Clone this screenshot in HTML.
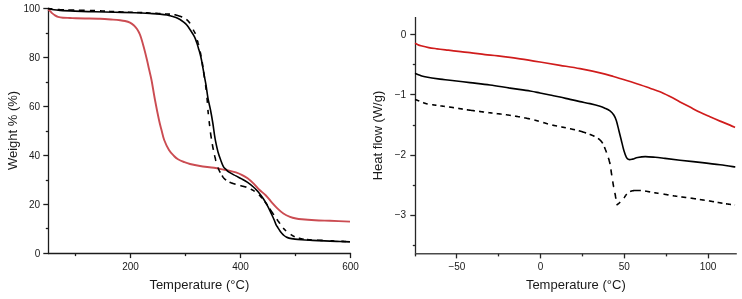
<!DOCTYPE html>
<html><head><meta charset="utf-8"><style>
html,body{margin:0;padding:0;background:#fff;}
svg{display:block;will-change:transform;filter:blur(0.3px);}
.axl{stroke:#1c1c1c;stroke-width:1.3;fill:none;}
.axr{stroke:#262626;stroke-width:1.3;fill:none;}
.axr2{stroke:#4a4a4a;stroke-width:1.5;fill:none;}
.c{fill:none;stroke-linejoin:round;}
text{font-family:"Liberation Sans",sans-serif;fill:#1a1a1a;}
.tl{font-size:10px;}
.al{font-size:13px;}
</style></head><body>
<svg width="742" height="299" viewBox="0 0 742 299">
<line x1="48.5" y1="8.2" x2="48.5" y2="254.1" class="axl"/>
<line x1="47.9" y1="253.5" x2="351.1" y2="253.5" class="axl"/>
<line x1="43.3" y1="253.5" x2="48.5" y2="253.5" class="axl"/>
<text x="40.2" y="257" class="tl" text-anchor="end">0</text>
<line x1="45.8" y1="228.5" x2="48.5" y2="228.5" class="axl"/>
<line x1="43.3" y1="204.5" x2="48.5" y2="204.5" class="axl"/>
<text x="40.2" y="208.08" class="tl" text-anchor="end">20</text>
<line x1="45.8" y1="180.5" x2="48.5" y2="180.5" class="axl"/>
<line x1="43.3" y1="155.5" x2="48.5" y2="155.5" class="axl"/>
<text x="40.2" y="159.16" class="tl" text-anchor="end">40</text>
<line x1="45.8" y1="131.5" x2="48.5" y2="131.5" class="axl"/>
<line x1="43.3" y1="106.5" x2="48.5" y2="106.5" class="axl"/>
<text x="40.2" y="110.24" class="tl" text-anchor="end">60</text>
<line x1="45.8" y1="82.5" x2="48.5" y2="82.5" class="axl"/>
<line x1="43.3" y1="57.5" x2="48.5" y2="57.5" class="axl"/>
<text x="40.2" y="61.32" class="tl" text-anchor="end">80</text>
<line x1="45.8" y1="33.5" x2="48.5" y2="33.5" class="axl"/>
<line x1="43.3" y1="8.5" x2="48.5" y2="8.5" class="axl"/>
<text x="40.2" y="12.4" class="tl" text-anchor="end">100</text>
<line x1="75.5" y1="253.5" x2="75.5" y2="256.1" class="axl"/>
<line x1="130.5" y1="253.5" x2="130.5" y2="258.1" class="axl"/>
<text x="130.5" y="269.6" class="tl" text-anchor="middle">200</text>
<line x1="185.5" y1="253.5" x2="185.5" y2="256.1" class="axl"/>
<line x1="240.5" y1="253.5" x2="240.5" y2="258.1" class="axl"/>
<text x="240.5" y="269.6" class="tl" text-anchor="middle">400</text>
<line x1="295.5" y1="253.5" x2="295.5" y2="256.1" class="axl"/>
<line x1="350.5" y1="253.5" x2="350.5" y2="258.1" class="axl"/>
<text x="350.5" y="269.6" class="tl" text-anchor="middle">600</text>
<text x="199.3" y="288.9" class="al" text-anchor="middle">Temperature (°C)</text>
<text transform="translate(16.8,130.5) rotate(-90)" class="al" text-anchor="middle">Weight % (%)</text>
<line x1="415.5" y1="17" x2="415.5" y2="254.4" class="axr"/>
<line x1="414.9" y1="253.8" x2="736.8" y2="253.8" class="axr2"/>
<line x1="410.3" y1="34.5" x2="415.5" y2="34.5" class="axr"/>
<text x="406.2" y="37.8" class="tl" text-anchor="end">0</text>
<line x1="412.8" y1="64.5" x2="415.5" y2="64.5" class="axr"/>
<line x1="410.3" y1="94.5" x2="415.5" y2="94.5" class="axr"/>
<text x="406.2" y="97.97" class="tl" text-anchor="end">−1</text>
<line x1="412.8" y1="125.5" x2="415.5" y2="125.5" class="axr"/>
<line x1="410.3" y1="155.5" x2="415.5" y2="155.5" class="axr"/>
<text x="406.2" y="158.14" class="tl" text-anchor="end">−2</text>
<line x1="412.8" y1="185.5" x2="415.5" y2="185.5" class="axr"/>
<line x1="410.3" y1="215.5" x2="415.5" y2="215.5" class="axr"/>
<text x="406.2" y="218.31" class="tl" text-anchor="end">−3</text>
<line x1="412.8" y1="245.5" x2="415.5" y2="245.5" class="axr"/>
<line x1="415.5" y1="253.8" x2="415.5" y2="256.4" class="axr"/>
<line x1="456.5" y1="253.8" x2="456.5" y2="258.4" class="axr"/>
<text x="456.9" y="270.2" class="tl" text-anchor="middle">−50</text>
<line x1="498.5" y1="253.8" x2="498.5" y2="256.4" class="axr"/>
<line x1="540.5" y1="253.8" x2="540.5" y2="258.4" class="axr"/>
<text x="540.6" y="270.2" class="tl" text-anchor="middle">0</text>
<line x1="582.5" y1="253.8" x2="582.5" y2="256.4" class="axr"/>
<line x1="624.5" y1="253.8" x2="624.5" y2="258.4" class="axr"/>
<text x="624.3" y="270.2" class="tl" text-anchor="middle">50</text>
<line x1="666.5" y1="253.8" x2="666.5" y2="256.4" class="axr"/>
<line x1="708.5" y1="253.8" x2="708.5" y2="258.4" class="axr"/>
<text x="708" y="270.2" class="tl" text-anchor="middle">100</text>
<text x="575.8" y="289.2" class="al" text-anchor="middle">Temperature (°C)</text>
<text transform="translate(381.8,135.5) rotate(-90)" class="al" text-anchor="middle">Heat flow (W/g)</text>
<path d="M48.00,9.50 C48.33,9.75 49.33,10.40 50.00,11.00 C50.67,11.60 51.17,12.37 52.00,13.10 C52.83,13.83 54.00,14.78 55.00,15.40 C56.00,16.02 56.67,16.42 58.00,16.80 C59.33,17.18 61.00,17.50 63.00,17.70 C65.00,17.90 67.83,17.90 70.00,18.00 C72.17,18.10 73.50,18.22 76.00,18.30 C78.50,18.38 81.00,18.42 85.00,18.50 C89.00,18.58 95.33,18.62 100.00,18.80 C104.67,18.98 109.67,19.37 113.00,19.60 C116.33,19.83 118.00,19.97 120.00,20.20 C122.00,20.43 123.33,20.58 125.00,21.00 C126.67,21.42 128.50,21.95 130.00,22.70 C131.50,23.45 132.83,24.45 134.00,25.50 C135.17,26.55 136.08,27.67 137.00,29.00 C137.92,30.33 138.83,32.08 139.50,33.50 C140.17,34.92 140.25,35.08 141.00,37.50 C141.75,39.92 143.00,44.25 144.00,48.00 C145.00,51.75 146.17,56.50 147.00,60.00 C147.83,63.50 148.25,65.67 149.00,69.00 C149.75,72.33 150.50,74.83 151.50,80.00 C152.50,85.17 153.75,93.33 155.00,100.00 C156.25,106.67 157.92,115.00 159.00,120.00 C160.08,125.00 160.63,126.67 161.50,130.00 C162.37,133.33 162.95,136.67 164.20,140.00 C165.45,143.33 167.37,147.33 169.00,150.00 C170.63,152.67 172.50,154.45 174.00,156.00 C175.50,157.55 176.33,158.30 178.00,159.30 C179.67,160.30 182.00,161.22 184.00,162.00 C186.00,162.78 187.33,163.33 190.00,164.00 C192.67,164.67 196.00,165.37 200.00,166.00 C204.00,166.63 210.10,167.20 214.00,167.80 C217.90,168.40 220.73,169.08 223.40,169.60 C226.07,170.12 227.92,170.43 230.00,170.90 C232.08,171.37 233.95,171.75 235.90,172.40 C237.85,173.05 239.75,173.82 241.70,174.80 C243.65,175.78 245.65,176.87 247.60,178.30 C249.55,179.73 251.45,181.50 253.40,183.40 C255.35,185.30 257.22,187.68 259.30,189.70 C261.38,191.72 263.83,193.40 265.90,195.50 C267.97,197.60 269.75,200.12 271.70,202.30 C273.65,204.48 275.65,206.73 277.60,208.60 C279.55,210.47 281.33,212.13 283.40,213.50 C285.47,214.87 287.90,215.97 290.00,216.80 C292.10,217.63 294.03,218.08 296.00,218.50 C297.97,218.92 298.63,219.02 301.80,219.30 C304.97,219.58 310.30,219.95 315.00,220.20 C319.70,220.45 324.17,220.57 330.00,220.80 C335.83,221.03 346.67,221.47 350.00,221.60" class="c" style="stroke:#cb4c52;stroke-width:1.9"/>
<path d="M48.00,8.50 C49.00,8.72 52.00,9.48 54.00,9.80 C56.00,10.12 56.50,10.18 60.00,10.40 C63.50,10.62 69.17,10.87 75.00,11.10 C80.83,11.33 88.33,11.62 95.00,11.80 C101.67,11.98 108.33,12.03 115.00,12.20 C121.67,12.37 129.17,12.58 135.00,12.80 C140.83,13.02 145.83,13.28 150.00,13.50 C154.17,13.72 157.17,13.85 160.00,14.10 C162.83,14.35 165.00,14.63 167.00,15.00 C169.00,15.37 170.50,15.87 172.00,16.30 C173.50,16.73 174.67,17.07 176.00,17.60 C177.33,18.13 178.83,18.83 180.00,19.50 C181.17,20.17 181.87,20.68 183.00,21.60 C184.13,22.52 185.50,23.47 186.80,25.00 C188.10,26.53 189.53,28.85 190.80,30.80 C192.07,32.75 193.42,34.75 194.40,36.70 C195.38,38.65 196.02,40.55 196.70,42.50 C197.38,44.45 197.92,46.45 198.50,48.40 C199.08,50.35 199.70,52.27 200.20,54.20 C200.70,56.13 201.03,57.63 201.50,60.00 C201.97,62.37 202.50,65.60 203.00,68.40 C203.50,71.20 204.00,74.03 204.50,76.80 C205.00,79.57 205.42,81.40 206.00,85.00 C206.58,88.60 207.25,94.23 208.00,98.40 C208.75,102.57 209.70,105.90 210.50,110.00 C211.30,114.10 212.13,118.83 212.80,123.00 C213.47,127.17 214.03,131.93 214.50,135.00 C214.97,138.07 215.02,138.57 215.60,141.40 C216.18,144.23 217.15,148.90 218.00,152.00 C218.85,155.10 219.80,157.57 220.70,160.00 C221.60,162.43 222.52,165.05 223.40,166.60 C224.28,168.15 225.07,168.37 226.00,169.30 C226.93,170.23 227.35,171.10 229.00,172.20 C230.65,173.30 233.78,174.78 235.90,175.90 C238.02,177.02 239.75,177.82 241.70,178.90 C243.65,179.98 245.65,181.05 247.60,182.40 C249.55,183.75 251.65,185.43 253.40,187.00 C255.15,188.57 256.42,189.80 258.10,191.80 C259.78,193.80 262.02,196.82 263.50,199.00 C264.98,201.18 265.92,202.93 267.00,204.90 C268.08,206.87 269.10,208.95 270.00,210.80 C270.90,212.65 271.67,214.38 272.40,216.00 C273.13,217.62 273.80,219.07 274.40,220.50 C275.00,221.93 275.40,223.38 276.00,224.60 C276.60,225.82 277.33,226.73 278.00,227.80 C278.67,228.87 279.33,230.05 280.00,231.00 C280.67,231.95 281.33,232.75 282.00,233.50 C282.67,234.25 283.33,234.93 284.00,235.50 C284.67,236.07 285.17,236.47 286.00,236.90 C286.83,237.33 287.50,237.73 289.00,238.10 C290.50,238.47 292.87,238.83 295.00,239.10 C297.13,239.37 299.30,239.52 301.80,239.70 C304.30,239.88 307.30,240.05 310.00,240.20 C312.70,240.35 314.67,240.45 318.00,240.60 C321.33,240.75 326.33,240.95 330.00,241.10 C333.67,241.25 336.67,241.37 340.00,241.50 C343.33,241.63 348.33,241.83 350.00,241.90" class="c" style="stroke:#000;stroke-width:1.6"/>
<path d="M48.00,8.50L48.27,8.53L48.57,8.56L48.91,8.60L49.27,8.64L49.67,8.69L50.09,8.73L50.53,8.79L51.00,8.84L51.49,8.90L52.00,8.96L52.52,9.01M57.69,9.53L58.27,9.58L58.86,9.62L59.43,9.66L60.00,9.70L60.56,9.73L61.13,9.76L61.70,9.79L62.27,9.81L62.84,9.83L63.42,9.85L64.00,9.87M68.24,9.97L68.88,9.98L69.52,9.99L70.17,10.00L70.83,10.01L71.50,10.02L72.18,10.04L72.87,10.05L73.57,10.07L74.28,10.08M78.84,10.19L79.65,10.20L80.47,10.22L81.30,10.24L82.13,10.25L82.98,10.27L83.83,10.29L84.69,10.31M89.88,10.43L90.75,10.45L91.61,10.48L92.47,10.51L93.32,10.54L94.16,10.57L95.00,10.60M100.00,10.84L100.83,10.89L101.67,10.94L102.50,10.99L103.33,11.04L104.17,11.09L105.00,11.14M109.17,11.39L110.00,11.44L110.83,11.49L111.67,11.53L112.50,11.58L113.33,11.62L114.17,11.66M118.39,11.84L119.25,11.87L120.12,11.91L120.98,11.94L121.85,11.97L122.72,12.00L123.59,12.03M127.87,12.16L128.70,12.19L129.53,12.22L130.35,12.24L131.16,12.27L131.96,12.29L132.74,12.32M137.11,12.48L137.79,12.50L138.45,12.53L139.10,12.55L139.74,12.57L140.37,12.60L140.99,12.62L141.60,12.64L142.21,12.66M145.78,12.81L146.37,12.83L146.96,12.86L147.56,12.88L148.16,12.91L148.77,12.94L149.38,12.97L150.00,13.00L150.63,13.03M155.22,13.29L155.89,13.32L156.55,13.36L157.22,13.40L157.88,13.44L158.53,13.48L159.18,13.52L159.81,13.56L160.44,13.60M165.00,13.90L165.49,13.93L165.96,13.96L166.42,13.99L166.86,14.01L167.28,14.03L167.70,14.05L168.09,14.07L168.48,14.09L168.86,14.10L169.23,14.12L169.59,14.14L169.94,14.16M174.36,14.67L174.71,14.74L175.07,14.82L175.43,14.90L175.79,14.99L176.15,15.08L176.51,15.18L176.87,15.27L177.23,15.38L177.59,15.48L177.94,15.59L178.29,15.69L178.63,15.80L178.97,15.91L179.31,16.03L179.64,16.14L179.96,16.25L180.28,16.36L180.59,16.47L180.89,16.58L181.18,16.69L181.46,16.79L181.74,16.90L182.00,17.00L182.25,17.10M186.40,19.40L186.57,19.53L186.73,19.67L186.89,19.81L187.05,19.95L187.21,20.09L187.37,20.24L187.52,20.38L187.67,20.53L187.83,20.69L187.98,20.84L188.13,21.00L188.28,21.16L188.42,21.33L188.57,21.50L188.71,21.67L188.86,21.84L189.00,22.02L189.15,22.21L189.29,22.40L189.43,22.59L189.57,22.78L189.72,22.98L189.86,23.19L190.00,23.40M193.20,29.60L193.31,29.82L193.43,30.03L193.54,30.23L193.64,30.42L193.75,30.62L193.86,30.80L193.96,30.98L194.06,31.16L194.16,31.33L194.26,31.51L194.36,31.68L194.46,31.84L194.55,32.01L194.64,32.18L194.74,32.35L194.83,32.52L194.91,32.69L195.00,32.86L195.09,33.04L195.17,33.22L195.26,33.41L195.34,33.60L195.42,33.80M197.19,40.11L197.25,40.31L197.31,40.50L197.37,40.68L197.43,40.86L197.49,41.04L197.55,41.22L197.61,41.40L197.68,41.58L197.74,41.76L197.80,41.94L197.86,42.13L197.92,42.32L197.99,42.51L198.05,42.71L198.11,42.91L198.17,43.12L198.24,43.34L198.30,43.57L198.37,43.80L198.43,44.05L198.50,44.30L198.57,44.57L198.64,44.85M200.07,51.41L200.13,51.71L200.20,52.00L200.26,52.28L200.33,52.55L200.39,52.80L200.45,53.05L200.51,53.29L200.57,53.53L200.63,53.75L200.69,53.98L200.75,54.20L200.80,54.42L200.86,54.64L200.92,54.86L200.98,55.08L201.03,55.30L201.09,55.53L201.14,55.77L201.20,56.01L201.26,56.26L201.31,56.52M202.22,62.20L202.28,62.62L202.33,63.05L202.39,63.49L202.45,63.93L202.50,64.37L202.56,64.82L202.62,65.27L202.68,65.72L202.74,66.17L202.81,66.63L202.87,67.08M203.59,71.93L203.66,72.44L203.74,72.96L203.82,73.48L203.90,74.00L203.98,74.52L204.06,75.04L204.14,75.56L204.21,76.07L204.29,76.59L204.37,77.09L204.44,77.60M205.55,85.12L205.61,85.53L205.67,85.93L205.72,86.34L205.78,86.74L205.83,87.14L205.89,87.55L205.94,87.95L205.99,88.36L206.05,88.76L206.10,89.17L206.15,89.58L206.20,90.00M207.01,97.80L207.04,98.23L207.08,98.66L207.12,99.10L207.16,99.55L207.20,100.00L207.24,100.46L207.28,100.92L207.31,101.39L207.35,101.86L207.39,102.34L207.42,102.83M207.93,109.82L207.97,110.32L208.01,110.81L208.05,111.31L208.10,111.80L208.15,112.29L208.19,112.78L208.24,113.28L208.29,113.78L208.35,114.27M209.13,121.18L209.18,121.65L209.24,122.12L209.29,122.58L209.35,123.05L209.40,123.50L209.45,123.95L209.50,124.40L209.55,124.85L209.61,125.29L209.66,125.74L209.71,126.18M210.45,132.38L210.50,132.76L210.55,133.13L210.60,133.50L210.65,133.86L210.70,134.21L210.75,134.56L210.80,134.90L210.85,135.23L210.90,135.56L210.95,135.89L211.00,136.20L211.05,136.52L211.10,136.83L211.15,137.13L211.20,137.44L211.25,137.74L211.30,138.04L211.35,138.33L211.40,138.63M212.29,144.07L212.34,144.34L212.38,144.62L212.43,144.90L212.48,145.18L212.53,145.46L212.58,145.75L212.63,146.05L212.68,146.35L212.74,146.67L212.80,146.98L212.86,147.31L212.93,147.65L213.00,148.00L213.07,148.36L213.15,148.74L213.23,149.13L213.31,149.53L213.40,149.94M214.56,155.21L214.65,155.64L214.75,156.06L214.84,156.47L214.94,156.87L215.03,157.26L215.12,157.64L215.20,158.00L215.28,158.35L215.36,158.69L215.44,159.03L215.52,159.36L215.60,159.69L215.67,160.01L215.75,160.32L215.82,160.63L215.90,160.93M217.90,167.49L217.99,167.70L218.07,167.90L218.16,168.10L218.24,168.30L218.33,168.50L218.41,168.69L218.50,168.88L218.58,169.07L218.66,169.26L218.75,169.45L218.83,169.63L218.92,169.82L219.00,170.00L219.08,170.18L219.16,170.36L219.24,170.53L219.32,170.69L219.40,170.86L219.48,171.02L219.55,171.18L219.63,171.33L219.71,171.48L219.78,171.63L219.86,171.78L219.94,171.93L220.02,172.08L220.10,172.23L220.18,172.38L220.26,172.53M222.01,175.50L222.13,175.70L222.25,175.90L222.38,176.09L222.50,176.29L222.63,176.49L222.76,176.68L222.89,176.88L223.02,177.07L223.16,177.26L223.29,177.44L223.43,177.62L223.57,177.80L223.71,177.97L223.86,178.14L224.00,178.30L224.15,178.46L224.30,178.61L224.45,178.76L224.60,178.91L224.76,179.06L224.92,179.20L225.08,179.34L225.24,179.48L225.40,179.62L225.57,179.75L225.74,179.88L225.91,180.01L226.08,180.14M229.51,182.18L229.67,182.26L229.84,182.33L230.01,182.40L230.19,182.47L230.37,182.54L230.55,182.61L230.74,182.68L230.93,182.75L231.13,182.83L231.34,182.90L231.55,182.97L231.78,183.05L232.01,183.13L232.25,183.21L232.50,183.30L232.76,183.39L233.04,183.48L233.33,183.57L233.63,183.67L233.94,183.77L234.26,183.86L234.58,183.96L234.92,184.06L235.26,184.16L235.60,184.27M240.30,185.60L240.59,185.68L240.87,185.76L241.16,185.83L241.43,185.90L241.71,185.97L241.98,186.04L242.25,186.11L242.52,186.17L242.79,186.24L243.05,186.30L243.31,186.36L243.56,186.42L243.82,186.49L244.06,186.55L244.31,186.61L244.56,186.67L244.80,186.73L245.03,186.80L245.27,186.86L245.50,186.92L245.73,186.99L245.96,187.06L246.18,187.13L246.40,187.20M250.80,189.10L250.97,189.19L251.14,189.27L251.31,189.36L251.47,189.45L251.64,189.53L251.80,189.62L251.96,189.71L252.12,189.80L252.28,189.88L252.44,189.97L252.60,190.06L252.76,190.16L252.91,190.25L253.07,190.34L253.23,190.44L253.39,190.54L253.55,190.64L253.71,190.74L253.87,190.84L254.03,190.95L254.20,191.06L254.36,191.17L254.53,191.28L254.70,191.40M259.00,194.80L259.15,194.94L259.30,195.08L259.44,195.22L259.57,195.36L259.71,195.49L259.83,195.63L259.96,195.76L260.08,195.90L260.20,196.03L260.32,196.17L260.44,196.30L260.56,196.44L260.67,196.58L260.79,196.72L260.91,196.86L261.03,197.00L261.15,197.15L261.28,197.30L261.40,197.46L261.53,197.62L261.67,197.78L261.81,197.95L261.95,198.12L262.10,198.30M264.76,201.46L264.94,201.69L265.13,201.93L265.31,202.17L265.51,202.42L265.70,202.68L265.90,202.95L266.10,203.22L266.30,203.50L266.51,203.79L266.72,204.10L266.94,204.41L267.16,204.74L267.39,205.08M269.79,208.76L270.03,209.14L270.28,209.52L270.52,209.89L270.75,210.26L270.99,210.62L271.22,210.98L271.45,211.33L271.68,211.67L271.90,212.00L272.12,212.33L272.34,212.65L272.56,212.98L272.78,213.31L273.00,213.63L273.21,213.96L273.43,214.28L273.65,214.60L273.86,214.92M276.80,219.20L276.97,219.44L277.13,219.66L277.28,219.88L277.43,220.10L277.58,220.30L277.72,220.50L277.86,220.69L277.99,220.87L278.12,221.06L278.25,221.23L278.38,221.40L278.51,221.57L278.63,221.74L278.75,221.91L278.87,222.07L279.00,222.24L279.12,222.40L279.24,222.57L279.36,222.73L279.49,222.90L279.61,223.07L279.74,223.24L279.87,223.42L280.00,223.60M283.20,228.00L283.32,228.15L283.44,228.29L283.55,228.42L283.67,228.55L283.77,228.67L283.88,228.79L283.98,228.91L284.09,229.02L284.19,229.13L284.29,229.23L284.39,229.34L284.49,229.44L284.60,229.55L284.70,229.65L284.81,229.75L284.93,229.86L285.04,229.97L285.16,230.07L285.29,230.19L285.42,230.30L285.55,230.42L285.69,230.54L285.84,230.67L286.00,230.80L286.16,230.94M290.72,234.37L290.90,234.50L291.08,234.62L291.25,234.74L291.43,234.86L291.59,234.98L291.76,235.09L291.92,235.20L292.08,235.30L292.24,235.41L292.39,235.51L292.55,235.61L292.70,235.71L292.85,235.80L293.00,235.89L293.15,235.98L293.30,236.07L293.45,236.16L293.60,236.24L293.75,236.33L293.91,236.41L294.06,236.49L294.22,236.57L294.38,236.65L294.54,236.72L294.70,236.80M298.80,238.10L298.99,238.15L299.17,238.20L299.36,238.25L299.54,238.30L299.73,238.35L299.91,238.40L300.10,238.45L300.29,238.50L300.48,238.55L300.67,238.60L300.86,238.65L301.06,238.69L301.25,238.74L301.45,238.79L301.65,238.83L301.86,238.88L302.06,238.92L302.27,238.96L302.48,239.01L302.70,239.05L302.92,239.09L303.14,239.13L303.37,239.16L303.60,239.20M307.00,239.58L307.27,239.60L307.54,239.63L307.82,239.65L308.11,239.67L308.40,239.69L308.71,239.71L309.02,239.73L309.34,239.76L309.66,239.78L310.00,239.80L310.34,239.82L310.69,239.84L311.04,239.87L311.40,239.89L311.76,239.91M317.06,240.16L317.53,240.18L318.00,240.21L318.49,240.23L318.98,240.25L319.48,240.28L320.00,240.30L320.53,240.33L321.07,240.35L321.64,240.38L322.21,240.41L322.80,240.43M330.47,240.79L331.13,240.82L331.79,240.85L332.44,240.88L333.09,240.91L333.73,240.94L334.37,240.97M341.28,241.29L342.01,241.33L342.73,241.36L343.44,241.39L344.13,241.43L344.81,241.46L345.47,241.49L346.11,241.52" class="c" style="stroke:#000;stroke-width:1.6"/>
<path d="M415.00,43.30 C415.50,43.55 417.00,44.38 418.00,44.80 C419.00,45.22 419.22,45.33 421.00,45.80 C422.78,46.27 426.03,47.10 428.70,47.60 C431.37,48.10 434.20,48.42 437.00,48.80 C439.80,49.18 443.00,49.60 445.50,49.90 C448.00,50.20 447.92,50.15 452.00,50.60 C456.08,51.05 464.50,51.93 470.00,52.60 C475.50,53.27 480.33,54.05 485.00,54.60 C489.67,55.15 492.17,55.18 498.00,55.90 C503.83,56.62 513.00,57.88 520.00,58.90 C527.00,59.92 533.33,60.93 540.00,62.00 C546.67,63.07 553.33,64.18 560.00,65.30 C566.67,66.42 573.33,67.43 580.00,68.70 C586.67,69.97 594.43,71.60 600.00,72.90 C605.57,74.20 608.95,75.23 613.40,76.50 C617.85,77.77 622.27,79.13 626.70,80.50 C631.13,81.87 636.12,83.42 640.00,84.70 C643.88,85.98 646.67,87.02 650.00,88.20 C653.33,89.38 656.67,90.40 660.00,91.80 C663.33,93.20 666.67,94.92 670.00,96.60 C673.33,98.28 676.67,100.15 680.00,101.90 C683.33,103.65 686.67,105.37 690.00,107.10 C693.33,108.83 696.67,110.68 700.00,112.30 C703.33,113.92 706.67,115.33 710.00,116.80 C713.33,118.27 716.67,119.72 720.00,121.10 C723.33,122.48 727.50,124.03 730.00,125.10 C732.50,126.17 734.17,127.10 735.00,127.50" class="c" style="stroke:#d01c1c;stroke-width:1.7"/>
<path d="M415.00,73.30 C415.83,73.63 418.33,74.73 420.00,75.30 C421.67,75.87 421.67,76.07 425.00,76.70 C428.33,77.33 435.83,78.52 440.00,79.10 C444.17,79.68 445.00,79.62 450.00,80.20 C455.00,80.78 463.33,81.80 470.00,82.60 C476.67,83.40 483.33,84.08 490.00,85.00 C496.67,85.92 503.33,87.10 510.00,88.10 C516.67,89.10 525.00,90.18 530.00,91.00 C535.00,91.82 536.67,92.33 540.00,93.00 C543.33,93.67 546.67,94.33 550.00,95.00 C553.33,95.67 556.67,96.27 560.00,97.00 C563.33,97.73 566.67,98.63 570.00,99.40 C573.33,100.17 576.67,100.90 580.00,101.60 C583.33,102.30 586.67,102.83 590.00,103.60 C593.33,104.37 597.50,105.43 600.00,106.20 C602.50,106.97 603.33,107.42 605.00,108.20 C606.67,108.98 608.53,109.77 610.00,110.90 C611.47,112.03 612.75,113.40 613.80,115.00 C614.85,116.60 615.47,117.97 616.30,120.50 C617.13,123.03 617.97,126.92 618.80,130.20 C619.63,133.48 620.47,136.85 621.30,140.20 C622.13,143.55 622.95,147.45 623.80,150.30 C624.65,153.15 625.55,155.77 626.40,157.30 C627.25,158.83 627.87,159.20 628.90,159.50 C629.93,159.80 631.13,159.43 632.60,159.10 C634.07,158.77 635.60,157.92 637.70,157.50 C639.80,157.08 642.28,156.63 645.20,156.60 C648.12,156.57 651.90,157.00 655.20,157.30 C658.50,157.60 660.87,157.92 665.00,158.40 C669.13,158.88 674.17,159.53 680.00,160.20 C685.83,160.87 693.33,161.63 700.00,162.40 C706.67,163.17 714.12,164.03 720.00,164.80 C725.88,165.57 732.75,166.63 735.30,167.00" class="c" style="stroke:#000;stroke-width:1.6"/>
<path d="M415.00,99.40L415.11,99.44L415.24,99.49L415.38,99.54L415.53,99.60L415.70,99.66L415.88,99.73L416.06,99.80L416.26,99.88L416.46,99.96L416.68,100.04L416.90,100.12L417.12,100.21L417.36,100.29L417.59,100.38L417.83,100.47L418.07,100.57L418.32,100.66L418.56,100.75L418.81,100.85L419.05,100.94L419.29,101.03M423.13,102.60L423.38,102.70L423.63,102.80L423.89,102.90L424.15,103.00L424.41,103.09L424.67,103.19L424.93,103.28L425.20,103.36L425.46,103.45L425.73,103.52L426.00,103.60L426.27,103.67L426.55,103.74L426.83,103.80L427.11,103.87L427.39,103.93L427.68,103.98M432.12,104.67L432.41,104.71L432.71,104.75L433.00,104.80L433.29,104.84L433.57,104.89L433.84,104.93L434.11,104.97L434.37,105.01L434.63,105.05L434.89,105.09L435.15,105.13L435.41,105.16L435.66,105.20L435.92,105.24L436.19,105.27L436.46,105.31M440.40,105.85L440.81,105.91L441.22,105.96L441.64,106.02L442.07,106.07L442.51,106.13L442.95,106.19L443.41,106.24L443.87,106.30L444.34,106.36L444.82,106.42M449.02,106.98L449.59,107.06L450.18,107.14L450.77,107.22L451.38,107.31L452.00,107.40L452.63,107.49L453.28,107.59L453.95,107.69M458.22,108.37L458.97,108.49L459.73,108.61L460.50,108.74L461.27,108.86L462.05,108.99L462.84,109.11M466.81,109.73L467.61,109.85L468.41,109.97L469.21,110.09L470.00,110.20L470.80,110.31L471.60,110.42L472.40,110.54L473.22,110.65L474.04,110.76L474.86,110.87M479.03,111.41L479.88,111.52L480.72,111.63L481.57,111.73L482.41,111.84L483.26,111.95L484.11,112.06M488.33,112.59L489.17,112.69L490.00,112.80L490.83,112.91L491.67,113.01L492.50,113.11M496.67,113.60L497.50,113.69L498.33,113.79L499.17,113.88L500.00,113.98L500.83,114.08L501.67,114.18M505.83,114.70L506.67,114.82L507.50,114.93L508.33,115.05L509.17,115.17L510.00,115.30L510.83,115.43M515.00,116.10L515.83,116.24L516.67,116.38L517.50,116.52L518.33,116.67L519.17,116.81L520.00,116.96M524.17,117.75L525.00,117.92L525.83,118.09L526.67,118.27L527.50,118.44L528.33,118.62L529.17,118.81L530.00,119.00M534.34,120.09L535.23,120.33L536.13,120.57L537.04,120.83L537.94,121.08L538.84,121.34M543.23,122.61L544.07,122.85L544.90,123.09L545.70,123.32L546.49,123.55L547.25,123.76L547.98,123.96M552.25,125.05L552.74,125.16L553.20,125.26L553.65,125.36L554.07,125.45L554.48,125.54L554.88,125.62L555.26,125.69L555.62,125.76L555.99,125.83L556.34,125.90L556.69,125.96L557.04,126.03M561.25,126.86L561.67,126.95L562.08,127.03L562.50,127.12L562.92,127.20L563.33,127.29L563.75,127.37L564.17,127.46L564.58,127.55L565.00,127.63L565.42,127.72L565.83,127.80M570.00,128.70L570.42,128.79L570.83,128.89L571.25,128.98L571.67,129.07L572.08,129.16L572.50,129.26L572.92,129.35L573.33,129.44L573.75,129.54L574.17,129.63L574.58,129.73L575.00,129.82M578.75,130.75L579.17,130.87L579.58,130.98L580.00,131.10L580.42,131.22L580.85,131.35L581.28,131.47L581.71,131.60L582.15,131.74L582.59,131.87L583.04,132.01L583.48,132.15L583.93,132.29L584.37,132.44L584.81,132.58L585.25,132.72L585.69,132.87L586.12,133.01M589.66,134.27L590.00,134.40L590.33,134.53L590.65,134.65L590.96,134.77L591.25,134.90L591.55,135.02L591.83,135.14L592.10,135.25L592.37,135.37L592.63,135.49L592.88,135.60L593.13,135.72L593.38,135.83L593.61,135.95L593.84,136.06L594.07,136.17L594.30,136.29L594.52,136.40M598.04,138.44L598.20,138.55L598.36,138.66L598.52,138.78L598.68,138.89L598.83,139.01L598.98,139.12L599.13,139.24L599.28,139.36L599.43,139.49L599.57,139.61L599.72,139.74L599.86,139.87L600.00,140.00L600.14,140.13L600.28,140.26L600.41,140.39L600.54,140.52L600.66,140.65L600.78,140.78L600.90,140.91L601.02,141.04L601.14,141.17L601.25,141.30L601.36,141.44L601.48,141.57L601.58,141.72L601.69,141.86L601.80,142.01L601.91,142.16L602.02,142.32L602.13,142.48L602.24,142.65L602.35,142.83L602.46,143.01L602.57,143.20L602.68,143.40M604.37,146.97L604.49,147.26L604.61,147.54L604.73,147.83L604.84,148.11L604.96,148.40L605.07,148.68L605.18,148.95L605.29,149.22L605.39,149.49L605.50,149.75L605.60,150.00L605.70,150.25L605.80,150.49L605.89,150.73L605.98,150.97L606.07,151.20L606.16,151.44L606.25,151.67L606.34,151.90L606.42,152.13L606.51,152.36L606.59,152.58M608.35,157.79L608.43,158.02L608.50,158.25L608.57,158.48L608.64,158.71L608.71,158.94L608.78,159.17L608.85,159.40L608.92,159.62L608.98,159.85L609.05,160.08L609.11,160.31L609.18,160.54L609.24,160.77L609.30,161.00L609.36,161.23L609.42,161.46L609.48,161.69L609.53,161.91L609.59,162.14L609.64,162.37L609.70,162.60L609.75,162.82L609.80,163.05L609.86,163.28L609.91,163.50L609.96,163.73L610.01,163.96L610.05,164.19M610.91,169.37L610.94,169.61L610.97,169.85L611.00,170.10L611.03,170.34L611.06,170.58L611.10,170.83L611.13,171.07L611.16,171.32L611.19,171.56L611.23,171.81L611.26,172.05L611.30,172.30L611.34,172.55L611.38,172.79L611.42,173.04L611.46,173.29L611.50,173.54L611.54,173.79L611.58,174.04L611.62,174.29L611.66,174.54L611.71,174.79L611.75,175.04L611.79,175.29M612.74,181.32L612.78,181.57L612.82,181.82L612.85,182.07L612.89,182.32L612.93,182.57L612.96,182.82L613.00,183.07L613.04,183.32L613.08,183.56L613.12,183.81L613.16,184.06L613.20,184.30L613.24,184.54L613.28,184.79L613.33,185.03L613.37,185.27L613.42,185.51L613.46,185.75L613.51,185.98L613.55,186.22L613.60,186.46L613.64,186.70L613.69,186.93L613.74,187.17M614.87,192.88L614.92,193.11L614.96,193.35L615.01,193.59L615.06,193.83L615.10,194.07L615.15,194.30L615.19,194.54L615.23,194.77L615.28,195.01L615.32,195.24L615.36,195.47L615.40,195.70L615.44,195.93L615.48,196.16L615.52,196.40L615.55,196.63L615.59,196.86L615.62,197.10L615.66,197.34L615.69,197.57L615.73,197.80L615.76,198.04L615.79,198.27L615.83,198.50L615.86,198.73M616.77,203.97L616.80,204.06L616.83,204.15L616.87,204.23L616.90,204.30L616.93,204.36L616.96,204.43L616.98,204.48L616.99,204.53L617.01,204.58L617.02,204.62L617.03,204.66L617.04,204.69L617.05,204.71L617.06,204.73L617.07,204.74L617.09,204.74L617.11,204.74L617.13,204.73L617.16,204.72L617.20,204.69L617.24,204.66L617.29,204.62L617.35,204.57L617.42,204.52L617.49,204.45L617.58,204.38L617.69,204.29L617.80,204.20L617.93,204.10L618.07,203.98L618.22,203.85L618.39,203.71L618.56,203.57L618.75,203.41L618.94,203.24L619.14,203.07L619.35,202.88L619.57,202.69L619.79,202.50L620.01,202.29L620.24,202.09M623.91,198.02L624.12,197.73L624.32,197.44L624.53,197.14L624.73,196.84L624.93,196.54L625.13,196.24L625.33,195.94L625.53,195.65L625.73,195.36L625.92,195.07L626.12,194.80L626.31,194.53L626.50,194.28L626.68,194.03M630.06,191.51L630.21,191.46L630.36,191.41L630.51,191.36L630.67,191.31L630.83,191.25L631.00,191.20L631.17,191.15L631.33,191.09L631.50,191.04L631.66,191.00L631.82,190.95L631.98,190.91L632.14,190.87L632.30,190.83L632.47,190.80L632.63,190.77L632.80,190.73L632.98,190.71L633.15,190.68L633.33,190.65L633.52,190.63L633.71,190.61L633.90,190.59L634.11,190.57L634.32,190.56L634.54,190.54L634.76,190.53L635.00,190.52L635.24,190.51L635.50,190.50L635.76,190.49L636.04,190.48L636.31,190.48L636.60,190.47L636.89,190.47L637.19,190.47L637.50,190.47L637.81,190.47L638.12,190.47L638.45,190.47L638.78,190.48L639.11,190.49L639.45,190.50L639.80,190.51L640.15,190.53L640.50,190.54L640.86,190.57M645.14,191.03L645.58,191.10L646.02,191.17L646.47,191.25L646.92,191.33L647.38,191.42L647.84,191.50L648.30,191.59L648.77,191.68L649.24,191.77L649.70,191.86L650.17,191.95M654.20,192.70L654.61,192.77L655.02,192.83L655.43,192.90L655.83,192.96L656.23,193.02L656.63,193.08L657.02,193.14L657.41,193.20L657.79,193.25L658.18,193.31L658.56,193.36M663.50,194.10L663.89,194.16L664.27,194.23L664.66,194.29L665.05,194.36L665.43,194.43L665.82,194.50L666.21,194.56L666.60,194.63L666.98,194.70L667.37,194.77L667.76,194.84L668.14,194.91L668.53,194.98M672.70,195.70L673.07,195.76L673.44,195.81L673.80,195.87L674.16,195.92L674.52,195.98L674.88,196.03L675.23,196.08L675.59,196.13L675.94,196.18L676.29,196.23L676.64,196.28L676.99,196.33L677.35,196.37M681.30,196.90L681.67,196.95L682.05,197.00L682.43,197.05L682.81,197.10L683.19,197.15L683.58,197.20L683.96,197.24L684.35,197.29L684.74,197.34L685.13,197.39L685.52,197.44L685.91,197.49L686.30,197.54M690.60,198.10L690.99,198.15L691.37,198.21L691.76,198.27L692.14,198.32L692.52,198.38L692.91,198.44L693.29,198.49L693.68,198.55L694.06,198.61L694.45,198.67L694.83,198.73L695.21,198.79L695.60,198.85L695.98,198.91M699.80,199.50L700.18,199.56L700.56,199.62L700.95,199.67L701.33,199.73L701.71,199.79L702.09,199.85L702.47,199.91L702.86,199.96L703.24,200.02L703.62,200.08L704.00,200.14L704.38,200.19L704.76,200.25M708.90,200.90L709.27,200.96L709.64,201.02L710.01,201.08L710.38,201.15L710.74,201.21L711.11,201.27L711.48,201.33L711.84,201.40L712.20,201.46L712.57,201.52L712.93,201.59L713.29,201.65L713.66,201.71L714.02,201.78M717.60,202.40L717.96,202.46L718.31,202.52L718.66,202.58L719.01,202.64L719.36,202.70L719.71,202.76L720.05,202.82L720.40,202.88L720.75,202.94L721.09,203.00L721.44,203.06L721.78,203.12L722.13,203.18L722.47,203.24M726.00,203.80L726.37,203.85L726.76,203.91L727.16,203.97L727.57,204.03L727.99,204.08L728.42,204.14L728.85,204.20L729.29,204.26L729.73,204.32L730.16,204.37L730.60,204.43L731.02,204.49M734.80,204.97L735.00,205.00" class="c" style="stroke:#000;stroke-width:1.6"/>
</svg>
</body></html>
